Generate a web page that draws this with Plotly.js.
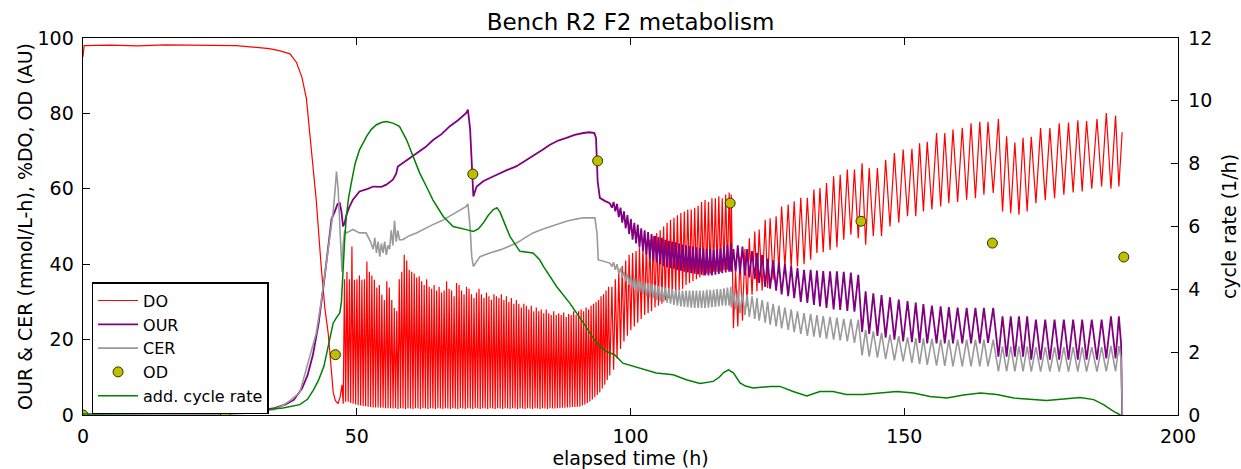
<!DOCTYPE html>
<html>
<head>
<meta charset="utf-8">
<script src="https://cdn.plot.ly/plotly-3.0.1.min.js"></script>
<style>
  html, body { margin: 0; padding: 0; background: #fff; }
  #chart { width: 1241px; height: 469px; }
</style>
</head>
<body>
<div id="chart"></div>
<script>
// ---------------- DATA ----------------
// DO before the oscillations start (h, %)
const doSmoothT = [0, 0.2, 5, 10, 15, 20, 25, 28, 31, 34, 36, 37.8, 39, 40, 40.8, 41.7, 42.6, 43.5, 44.2, 44.8, 45.3, 45.7, 46.1, 46.6, 47.0];
const doSmoothV = [95, 98, 98.1, 97.9, 98.2, 98.1, 98.2, 98, 97.6, 97.2, 96.6, 95.8, 93.5, 89.5, 84, 71, 57, 39.5, 28, 21.5, 13, 6, 3.8, 3, 5];

// dense DO oscillation block 1 : start time, cycle period, per-cycle peaks/troughs
const doBlock1 = { start: 47.3, period: 0.455 };
const doB1Peaks = [8, 36, 38, 36, 44.7, 35.9, 36, 37, 35.9, 36,
  40.7, 38, 37, 35.9, 33.8, 34.5, 31.9, 30.5, 35.5, 33.8,
  30.5, 28.4, 27.6, 36, 38, 42.5, 41, 38.5, 38, 37.5,
  36.5, 36.8, 35.5, 34.5, 36, 34, 33.5, 34.5, 33, 34,
  32.5, 33, 35.5, 33.5, 33, 31.5, 35, 34.5, 33, 32,
  34, 33.5, 32, 31, 32.5, 33.5, 32, 31, 32.5, 31.5,
  30.5, 32, 31.5, 31, 32, 30.5, 31.5, 30, 31, 29.5,
  30.5, 29.5, 28.5, 29.5, 29, 28, 29, 27.5, 28.5, 27.5,
  28, 27, 28, 27, 26.5, 27.5, 26.5, 27, 26.5, 27.2,
  26, 26.8, 26.5, 27.5, 26.5, 27.5, 28, 27.5, 28.5, 28,
  29, 29.5, 30, 30.5, 31.5, 32, 33, 34];
const doB1Troughs = [3, 3.5, 3.5, 3.2, 3, 2.8, 2.6, 2.5, 2.4, 2.3,
  2.2, 2.1, 2, 2, 2, 1.9, 1.9, 1.8, 1.8, 1.8,
  1.7, 1.8, 1.6, 1.8, 1.7, 1.6, 1.8, 1.7, 1.6, 1.8,
  1.7, 1.6, 1.8, 1.7, 1.6, 1.8, 1.7, 1.6, 1.8, 1.7,
  1.6, 1.8, 1.7, 1.6, 1.8, 1.7, 1.6, 1.8, 1.7, 1.6,
  1.8, 1.7, 1.6, 1.8, 1.7, 1.6, 1.8, 1.7, 1.6, 1.8,
  1.7, 1.6, 1.8, 1.7, 1.6, 1.8, 1.7, 1.6, 1.8, 1.7,
  1.6, 1.8, 1.7, 1.6, 1.8, 1.7, 1.6, 1.8, 1.7, 1.6,
  1.8, 1.7, 1.6, 1.8, 1.7, 1.7, 1.8, 1.8, 1.9, 1.9,
  2.0, 2.0, 2.1, 2.1, 2.2, 2.2, 2.5, 2.8, 3.2, 3.6,
  4.1, 4.7, 5.3, 6, 7, 8, 9.3, 10.5];

// oscillation block 2 (DO, OUR, CER share the cycle grid)
const doBlock2 = { start: 96.6, period: 0.63 };
const doB2Peaks = [34, 36, 38, 39.5, 41, 42.5, 43, 43.5, 44.5, 45,
  45.5, 46.5, 47.5, 48.3, 49, 50, 51, 51.8, 52.3, 53,
  53.6, 54, 54.5, 54.5, 55, 55.5, 56.5, 57, 56.5, 57.5,
  57.5, 58, 57.5, 58.5, 59];
const doB2Troughs = [12, 15, 17.5, 19.5, 21, 22.5, 23.5, 24.5, 25.5, 26.5,
  27, 27.5, 28.5, 29, 29.5, 30.5, 31, 31.5, 32.5, 33,
  33.5, 34.5, 35, 35.5, 36, 36.5, 37, 37.5, 37.5, 38,
  38, 38, 38.5, 38.5, 38.5];
const ourB2Peaks = [56.5, 56, 55, 54, 53, 52, 51, 50.5, 49.5, 49,
  48.5, 48, 47.5, 47.2, 47, 46.5, 46.2, 46, 45.8, 45.5,
  45.2, 45, 44.8, 44.6, 44.5, 44.3, 44.2, 44, 44, 43.8,
  44, 44.2, 44.5, 45, 45.5];
const ourB2Troughs = [55, 54, 52.5, 51, 49.5, 48, 46.5, 45.5, 44.5, 43.5,
  42.5, 41.5, 41, 40.5, 40, 39.5, 39.2, 39, 38.8, 38.5,
  38.3, 38, 37.8, 37.6, 37.5, 37.3, 37.2, 37, 37, 37,
  37.2, 37.4, 37.6, 37.8, 38];
const cerB2Peaks = [40.5, 40, 39, 38, 37.5, 37, 36.5, 36, 35.5, 35.2,
  35, 34.8, 34.5, 34.2, 34, 33.8, 33.6, 33.4, 33.2, 33,
  33, 33, 33, 33, 33, 33, 33, 33.2, 33.2, 33.2,
  33.4, 33.4, 33.6, 33.8, 34];
const cerB2Troughs = [39.5, 38.5, 37.5, 36.5, 35.5, 34.5, 33.5, 33, 32.5, 32,
  31.5, 31.2, 31, 30.5, 30.2, 30, 29.8, 29.5, 29.2, 29,
  28.8, 28.7, 28.6, 28.5, 28.4, 28.4, 28.4, 28.4, 28.5, 28.6,
  28.7, 28.8, 29, 29, 29];

// oscillations after the 118 h step: cycle times (DO peaks), per-cycle values
const cycT = [118.4, 119.2, 120.0, 120.9, 121.7, 122.7, 123.5, 124.6, 125.5, 126.6,
  127.6, 128.8, 129.9, 131.1, 132.3, 133.5, 134.6, 135.8, 137.1, 138.3,
  139.6, 140.9, 142.3, 143.6, 145.1, 146.6, 148.2, 149.8, 151.4, 152.8,
  154.2, 155.9, 157.4, 158.9, 160.6, 162.2, 163.8, 165.3, 167.2, 168.7,
  170.2, 171.7, 173.2, 174.9, 176.6, 178.3, 180.0, 181.7, 183.3, 185.2,
  186.9, 188.6];
const runEndT = 189.8;
const doPeaks = [58.5, 38, 42, 44, 46.9, 48.7, 49.2, 51.8, 52.2, 52.7,
  55.3, 55.8, 56.7, 57.6, 57.6, 59.8, 60.2, 61.5, 63.3, 63.7,
  65.1, 65.1, 66.8, 65.5, 65.5, 67.7, 69.5, 70.4, 70.6, 72.1,
  72.5, 74.8, 74.8, 75.7, 76.2, 77.4, 77.8, 77.8, 78.5, 73.9,
  72.3, 73.5, 73.8, 76.1, 76.1, 77.4, 77.6, 78.2, 78, 78.5,
  80.1, 79.4];
const doTroughs = [23, 23.5, 25, 28.8, 31.9, 32.8, 33, 33.7, 35.9, 38.1,
  39, 39, 39.4, 40, 41.2, 43, 43.2, 43.8, 44.5, 46.5,
  47.8, 46.9, 45.2, 47.4, 47.4, 50, 51, 52.7, 52.7, 54,
  54.5, 55.3, 56.2, 56.5, 57.1, 57.5, 58.4, 58.9, 54, 53.5,
  53.1, 54, 56.2, 57, 57.5, 58.4, 59, 59.3, 60, 60.6,
  60, 60.6];
const doEndV = 75;
const ourPeaks = [44, 45, 44.7, 44, 43.5, 43, 42.5, 41.5, 41, 40.5,
  40, 39.5, 39, 38.5, 38.5, 38.3, 38.2, 38.1, 38.1, 38,
  37.8, 37.2, 32.8, 32.3, 31.8, 31.2, 30.6, 30.2, 29.8, 29.4,
  29, 28.8, 28.6, 28.5, 28.4, 28.4, 28.4, 28.4, 26.2, 26.2,
  26.2, 26.2, 25.3, 25.3, 25.3, 25.3, 25.3, 25.3, 25.3, 25.3,
  26.2, 26.2];
const ourTroughs = [38, 38, 37.7, 37, 36.5, 36, 35, 34, 33.5, 33,
  32, 31.5, 31, 30, 29.7, 29.2, 28.8, 28.4, 28, 27.9,
  27.6, 27.4, 22, 21.5, 21, 20.5, 20, 19.5, 19.3, 19.1,
  19, 19, 19, 19, 19, 19, 19, 19.1, 15.5, 15.5,
  15.5, 15.5, 14.7, 14.7, 14.7, 14.7, 14.7, 14.7, 14.7, 14.7,
  15, 15];
const cerPeaks = [33, 33, 32.5, 32, 31.5, 31, 30.5, 30, 29.5, 29,
  28.5, 28, 27.5, 27, 26.8, 26.5, 26.2, 26, 25.8, 25.5,
  25.4, 25.3, 22.6, 22.2, 21.8, 21.3, 20.9, 20.6, 20.4, 20.3,
  20.2, 20, 20, 20, 20, 20, 20, 20, 18.2, 18.2,
  18.2, 18.2, 18, 18, 18, 18, 18, 18, 18, 18,
  18.3, 18.3];
const cerTroughs = [28.5, 28, 27, 26.5, 26, 25.5, 25, 24.5, 24, 23.5,
  23, 22.6, 22, 21.5, 21, 20.8, 20.5, 20.2, 20, 19.8,
  19.5, 19.1, 15.8, 15.5, 15.2, 14.8, 14.5, 14.2, 13.8, 13.5,
  13.3, 13.1, 13, 12.9, 12.9, 12.9, 12.9, 12.9, 11.6, 11.6,
  11.6, 11.6, 11.5, 11.5, 11.5, 11.5, 11.5, 11.5, 11.5, 11.5,
  11.6, 11.6];
const ourEndT = [189.6, 189.8];
const ourEndV = [19, 0];
const cerEndT = [189.6, 189.85];
const cerEndV = [15, 0];

// OUR & CER before the oscillations
const ourSmoothT = [0, 20, 26, 30, 33, 35, 37, 38.5, 40, 41, 42, 43, 44, 44.8, 45.4, 46.0, 46.5, 46.9, 47.2, 47.5,
  47.8, 48.1, 48.6, 49.3, 50.5, 52, 53, 54.5, 55.4, 56.6, 57.2, 57.5, 58.4, 60, 61, 62.5, 64, 65.5, 67, 68.5,
  70, 70.3, 70.7, 71.0, 71.3, 71.9, 73.1, 74.5, 76.2, 77.5, 79.2, 80.5, 82.2, 83.8, 85.3, 86.8, 88.3, 89.8, 91.4, 92.5,
  93.4, 93.7, 94.0, 94.4, 95.3, 96.2];
const ourSmoothV = [0, 0.1, 0.3, 0.8, 1.3, 1.8, 2.8, 4, 7, 10.5, 16, 24, 35, 45, 52, 54, 56, 56.2, 54, 50,
  51, 53, 55, 57.1, 59.3, 60, 60.6, 60.5, 61.1, 62.4, 64, 65.9, 66.8, 68.5, 69.5, 71, 73, 74.5, 76.6, 78.2,
  80.1, 81, 76, 65, 58, 60.6, 62, 63, 64.2, 65, 66, 67.2, 68.6, 70.2, 71.7, 72.8, 73.5, 74.3, 74.8, 75,
  74.8, 73.5, 62, 57.6, 56.8, 56.2];
const cerSmoothT = [0, 20, 26, 30, 33, 35, 36.5, 38, 39.6, 41, 42.6, 43.5, 44.4, 45.1, 45.7, 46.0, 46.3, 46.6, 46.9, 47.1,
  47.3, 47.5, 47.8, 48.1, 49.3, 50.5, 51.7, 52.5, 53.0, 53.3, 53.6, 53.9, 54.2, 54.5, 54.8, 55.1, 55.4, 55.7, 56.0, 56.3,
  56.6, 56.9, 57.2, 57.5, 57.8, 58.4, 59.5, 60.9, 62.4, 63.9, 65.5, 67, 68.5, 70, 70.3, 70.7, 71.0, 71.3, 72.5, 74.3,
  76.2, 77.7, 79.2, 80.7, 82.2, 83.8, 85.3, 86.8, 88.3, 89.8, 91.4, 93.5, 93.9, 94.1, 95.2, 96.2];
const cerSmoothV = [0, 0.1, 0.2, 0.5, 1, 1.5, 2.5, 4, 6, 13, 21.7, 30, 39.4, 47, 54, 59, 64.6, 60, 48.3, 42,
  38, 45, 49, 48.3, 49.2, 48.3, 48.3, 46, 44, 47, 43, 46, 42, 45.5, 43, 46, 42.5, 45, 44, 49,
  45, 51.5, 46, 49, 46.5, 46.5, 47.5, 48.3, 49.5, 50.5, 51.5, 52.7, 54, 55.3, 56, 50, 42, 39.4, 42, 43,
  43.8, 44.6, 45.6, 47, 48.3, 49.2, 50, 50.8, 51.4, 51.9, 52.3, 52.3, 48, 41.2, 40.8, 40.3];

// OD samples
const odT = [0, 26, 46.1, 71.2, 94.0, 118.2, 142.1, 166.1, 190.1];
const odV = [0, 0.3, 16, 63.9, 67.4, 56.2, 51.4, 45.6, 41.9];

// additive cycle rate (right axis, 1/h)
const rateT = [0, 10, 20, 26, 30, 34, 36.5, 39.6, 41, 42.1, 43, 44, 45, 45.7, 46.3, 46.9, 47.2, 47.5, 47.8, 48.1,
  48.5, 49, 49.7, 50.5, 51.2, 51.8, 52.7, 53.6, 54.5, 55.4, 56.6, 57.8, 59.1, 60.3, 61.5, 62.7, 63.9, 65.8, 67.6, 70,
  71.3, 72.2, 73.1, 74, 74.9, 75.6, 76.2, 77, 78, 79.8, 82.2, 83.4, 84.1, 86.5, 88.9, 91.4, 93.8, 95.6, 97.1, 98.6,
  101.7, 104.7, 107.8, 110.2, 112.7, 115.1, 116.2, 117, 117.9, 118.8, 120, 121, 122.4, 125.5, 127.3, 129.7, 132.2, 134.6, 137, 139.4,
  142.5, 145.5, 148.6, 151.7, 154.7, 157.8, 160.8, 163.9, 166.9, 170, 173, 176, 179.1, 182.1, 184.6, 186.4, 188.3, 189.5];
const rateV = [0.03, 0.05, 0.07, 0.08, 0.12, 0.18, 0.22, 0.33, 0.5, 0.8, 1.1, 1.55, 2.3, 2.93, 3.1, 3.25, 3.6, 4.73, 5.6, 6.32,
  6.9, 7.38, 8.0, 8.44, 8.7, 8.87, 9.1, 9.24, 9.31, 9.34, 9.29, 9.19, 8.76, 8.23, 7.7, 7.28, 6.85, 6.32, 6.0, 5.9,
  5.84, 5.92, 6.11, 6.35, 6.53, 6.6, 6.45, 6.1, 5.68, 5.21, 5.16, 4.94, 4.73, 4.09, 3.56, 2.93, 2.29, 2.02, 1.92, 1.65,
  1.5, 1.34, 1.28, 1.12, 1.0, 1.07, 1.2, 1.35, 1.44, 1.34, 1.02, 0.92, 0.86, 0.91, 0.91, 0.75, 0.61, 0.75, 0.75, 0.65,
  0.65, 0.7, 0.75, 0.7, 0.59, 0.54, 0.64, 0.7, 0.65, 0.54, 0.49, 0.46, 0.51, 0.56, 0.49, 0.33, 0.11, 0.0];

const xTicks = [0, 50, 100, 150, 200];
const yTicks = [0, 20, 40, 60, 80, 100];
const y2Ticks = [0, 2, 4, 6, 8, 10, 12];

// ---------------- assembling the series ----------------
function blockTimes(block, n) {
  const t = [];
  for (let i = 0; i < n; i++) t.push(block.start + i * block.period);
  return t;
}
// first value at each cycle time, second value half way to the next cycle
function zigzag(times, first, second, endT) {
  const x = [], y = [];
  for (let i = 0; i < times.length; i++) {
    const next = i + 1 < times.length ? times[i + 1] : endT;
    x.push(times[i]); y.push(first[i]);
    x.push((times[i] + next) / 2); y.push(second[i]);
  }
  return { x, y };
}
const b1T = blockTimes(doBlock1, doB1Peaks.length);
const b2T = blockTimes(doBlock2, doB2Peaks.length);
const b1End = doBlock1.start + doB1Peaks.length * doBlock1.period;
const b2End = doBlock2.start + doB2Peaks.length * doBlock2.period;

const doZ1 = zigzag(b1T, doB1Peaks, doB1Troughs, b1End);
const doZ2 = zigzag(b2T, doB2Peaks, doB2Troughs, b2End);
const doZ3 = zigzag(cycT, doPeaks, doTroughs, runEndT);
const doX = doSmoothT.concat(doZ1.x, doZ2.x, doZ3.x, [runEndT]);
const doY = doSmoothV.concat(doZ1.y, doZ2.y, doZ3.y, [doEndV]);

const ourZ2 = zigzag(b2T, ourB2Troughs, ourB2Peaks, b2End);
const ourZ3 = zigzag(cycT, ourTroughs, ourPeaks, runEndT);
const ourX = ourSmoothT.concat(ourZ2.x, ourZ3.x, ourEndT);
const ourY = ourSmoothV.concat(ourZ2.y, ourZ3.y, ourEndV);

const cerZ2 = zigzag(b2T, cerB2Troughs, cerB2Peaks, b2End);
const cerZ3 = zigzag(cycT, cerTroughs, cerPeaks, runEndT);
const cerX = cerSmoothT.concat(cerZ2.x, cerZ3.x, cerEndT);
const cerY = cerSmoothV.concat(cerZ2.y, cerZ3.y, cerEndV);

const FONT = 'DejaVu Sans, Arial, sans-serif';

const traces = [
  { x: doX, y: doY, name: 'DO', type: 'scatter', mode: 'lines', line: { color: '#ff0000', width: 1.2 } },
  { x: ourX, y: ourY, name: 'OUR', type: 'scatter', mode: 'lines', line: { color: '#800080', width: 1.8 } },
  { x: cerX, y: cerY, name: 'CER', type: 'scatter', mode: 'lines', line: { color: '#9a9a9a', width: 1.6 } },
  { x: odT, y: odV, name: 'OD', type: 'scatter', mode: 'markers',
    marker: { color: '#bfbf00', size: 10, line: { color: '#333300', width: 1 } } },
  { x: rateT, y: rateV, name: 'add. cycle rate', type: 'scatter', mode: 'lines', yaxis: 'y2',
    line: { color: '#008000', width: 1.5 } }
];

const axisCommon = {
  showgrid: false, zeroline: false, showline: true, linecolor: '#000', linewidth: 1.4,
  ticks: 'inside', ticklen: 7, tickwidth: 1, tickcolor: '#000',
  tickfont: { family: FONT, size: 19, color: '#000' }
};

const layout = {
  width: 1241, height: 469,
  margin: { l: 83, r: 63, t: 38, b: 54 },
  paper_bgcolor: '#fff', plot_bgcolor: '#fff',
  font: { family: FONT, color: '#000' },
  showlegend: true,
  title: { text: 'Bench R2 F2 metabolism', font: { family: FONT, size: 23, color: '#000' },
    x: 0.5, xref: 'paper', y: 1 - 22 / 469, yref: 'container', yanchor: 'middle' },
  xaxis: Object.assign({}, axisCommon, {
    range: [0, 200], tickvals: xTicks, ticktext: xTicks.map(String), mirror: 'ticks',
    ticklabelstandoff: 4,
    title: { text: 'elapsed time (h)', font: { family: FONT, size: 19, color: '#000' } }
  }),
  yaxis: Object.assign({}, axisCommon, {
    range: [0, 100], tickvals: yTicks, ticktext: yTicks.map(String), mirror: true,
    ticklabelstandoff: 4,
    title: { text: 'OUR &amp; CER (mmol/L-h), %DO, OD (AU)', font: { family: FONT, size: 19, color: '#000' } }
  }),
  yaxis2: Object.assign({}, axisCommon, {
    range: [0, 12], tickvals: y2Ticks, ticktext: y2Ticks.map(String), overlaying: 'y', side: 'right',
    ticklabelstandoff: 5,
    title: { text: 'cycle rate (1/h)', font: { family: FONT, size: 19, color: '#000' } }
  }),
  legend: {
    x: 0.008, y: 0.352, xanchor: 'left', yanchor: 'top',
    bgcolor: '#fff', bordercolor: '#000', borderwidth: 1.3,
    font: { family: FONT, size: 16, color: '#000' },
    tracegroupgap: 0, itemwidth: 40
  }
};

Plotly.newPlot('chart', traces, layout, { staticPlot: true, displayModeBar: false });
</script>
</body>
</html>
